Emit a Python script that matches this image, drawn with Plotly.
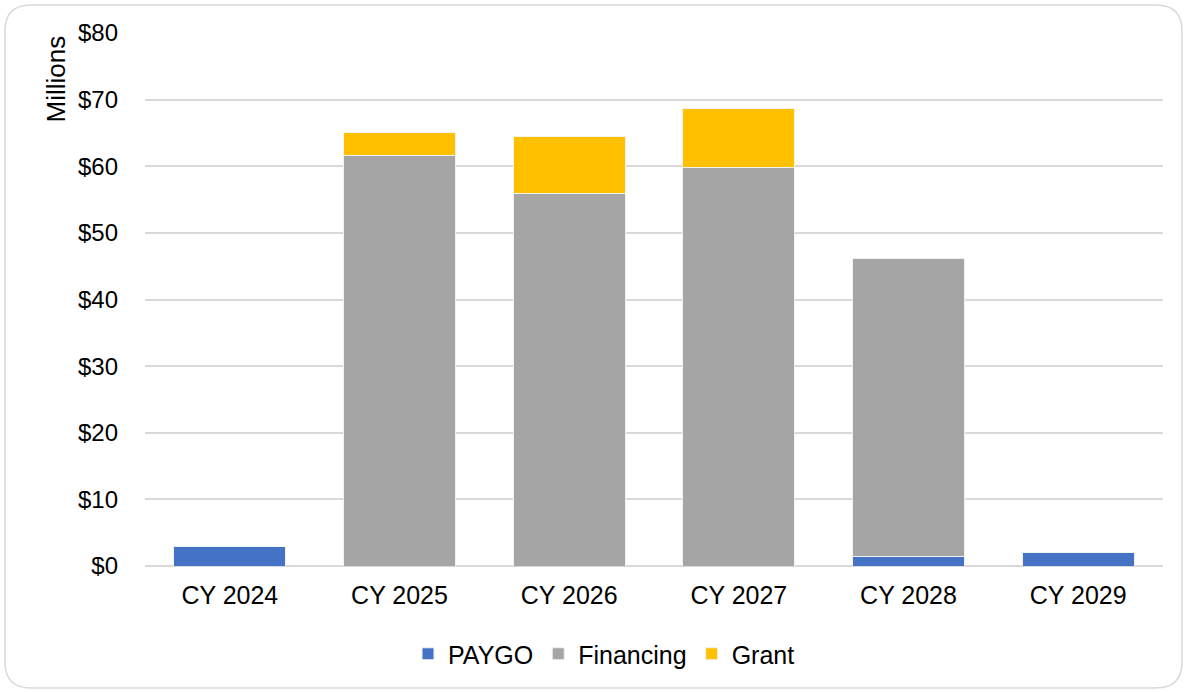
import plotly.graph_objects as go

categories = ["CY 2024", "CY 2025", "CY 2026", "CY 2027", "CY 2028", "CY 2029"]
paygo = [2.9, 0, 0, 0, 1.4, 2.0]
financing = [0, 61.6, 55.9, 59.8, 44.8, 0]
grant = [0, 3.4, 8.5, 8.8, 0, 0]
y_ticks = [0, 10, 20, 30, 40, 50, 60, 70, 80]
y_labels = [f"${v}" for v in y_ticks]

W, H = 1185, 692
L, R, T, B = 145, 22, 33, 126
pw, ph = W - L - R, H - T - B

FONT = "Liberation Sans, Arial, sans-serif"
fig = go.Figure()
for name, vals, col in [("PAYGO", paygo, "#4472C4"),
                        ("Financing", financing, "#A5A5A5"),
                        ("Grant", grant, "#FFC000")]:
    fig.add_trace(go.Bar(name=name, x=categories, y=vals,
                         marker=dict(color=col, line=dict(color="#F2F2F2", width=1))))

def px2paper(x, y):
    return (x - L) / pw, (H - B - y) / ph

def P(x, y):
    a, b = px2paper(x, y)
    return f"{a:.5f},{b:.5f}"

# rounded frame
x0, y0, x1, y1, r = 5, 5, 1182, 688, 26
path = (f"M {P(x0 + r, y0)} L {P(x1 - r, y0)} Q {P(x1, y0)} {P(x1, y0 + r)} "
        f"L {P(x1, y1 - r)} Q {P(x1, y1)} {P(x1 - r, y1)} "
        f"L {P(x0 + r, y1)} Q {P(x0, y1)} {P(x0, y1 - r)} "
        f"L {P(x0, y0 + r)} Q {P(x0, y0)} {P(x0 + r, y0)} Z")
fig.add_shape(type="path", path=path, xref="paper", yref="paper",
              line=dict(color="#D9D9D9", width=1.5), layer="below")

ax, ay = px2paper(55, 34)
fig.add_annotation(text="Millions", textangle=-90, x=ax, y=ay, xref="paper", yref="paper",
                   xanchor="center", yanchor="top", showarrow=False,
                   font=dict(family=FONT, size=26, color="#000000"))

lx, ly = px2paper(604, 654)
fig.update_layout(
    width=W, height=H, barmode="stack", bargap=0.34,
    margin=dict(l=L, r=R, t=T, b=B),
    paper_bgcolor="white", plot_bgcolor="white",
    font=dict(family=FONT, size=25, color="#000000"),
    xaxis=dict(showgrid=False, showline=False, ticks="", ticklabelstandoff=12,
               tickfont=dict(size=25)),
    yaxis=dict(range=[0, 80], tickvals=y_ticks, ticktext=y_labels,
               showgrid=True, gridcolor="#D9D9D9", gridwidth=1.5,
               zeroline=True, zerolinecolor="#D9D9D9", zerolinewidth=1.5,
               showline=False, ticks="", ticklabelstandoff=26,
               tickfont=dict(size=24)),
    legend=dict(orientation="h", x=lx, y=ly, xanchor="center", yanchor="middle",
                font=dict(size=25), itemwidth=30, traceorder="normal"),
    showlegend=True,
)
fig.write_html("out.html", config={"displayModeBar": False},
               post_script="document.body.style.margin='0';document.body.style.overflow='hidden';")
